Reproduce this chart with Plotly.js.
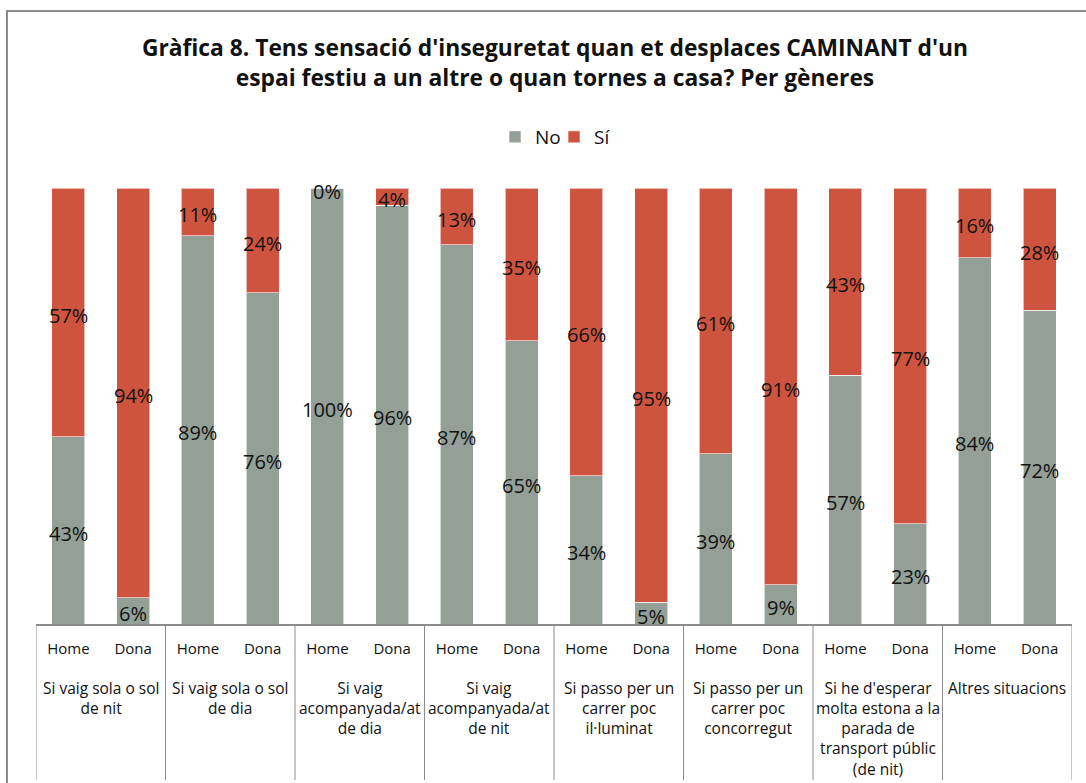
<!DOCTYPE html>
<html>
<head>
<meta charset="utf-8">
<script src="https://cdn.plot.ly/plotly-3.0.1.min.js"></script>
<style>
  html, body { margin: 0; padding: 0; background: #fff; overflow: hidden; }
  #wrap { position: relative; width: 1086px; height: 783px; }
  #chart { width: 1086px; height: 783px; }
  /* outer chart frame; right and bottom edges fall outside the picture */
  #frame {
    position: absolute;
    left: 6px;
    top: 10px;
    width: 1080px;
    height: 773px;
    box-sizing: border-box;
    border-top: 2px solid #8c8c8c;
    border-left: 2px solid #8c8c8c;
    pointer-events: none;
  }
</style>
</head>
<body>
<div id="wrap">
  <div id="chart"></div>
  <div id="frame"></div>
</div>
<script>
// Data

const groupLabels = [
  "Si vaig sola o sol<br>de nit",
  "Si vaig sola o sol<br>de dia",
  "Si vaig<br>acompanyada/at<br>de dia",
  "Si vaig<br>acompanyada/at<br>de nit",
  "Si passo per un<br>carrer poc<br>il·luminat",
  "Si passo per un<br>carrer poc<br>concorregut",
  "Si he d'esperar<br>molta estona a la<br>parada de<br>transport públic<br>(de nit)",
  "Altres situacions",
];
const genders = ["Home", "Dona"];

// one value per bar: Home, Dona for each group in order
const noValues = [43, 6, 89, 76, 100, 96, 87, 65, 34, 5, 39, 9, 57, 23, 84, 72];
const siValues = [57, 94, 11, 24, 0, 4, 13, 35, 66, 95, 61, 91, 43, 77, 16, 28];

// Colours / fonts
const COLOR_NO = "#939f97";
const COLOR_SI = "#ce543f";
const LINE_GREY = "#8c8c8c";
const FONT = "Open Sans, Noto Sans, sans-serif";

// Build

const barIndex = noValues.map((v, i) => i);
const tickText = barIndex.map((i) => genders[i % 2]);

const barTrace = function (name, values, color) {
  return {
    type: "bar",
    name: name,
    x: barIndex,
    y: values,
    marker: { color: color, line: { color: "rgba(255,255,255,0.6)", width: 1 } },
    hoverinfo: "skip",
  };
};

const data = [
  barTrace("No", noValues, COLOR_NO),
  barTrace("Sí", siValues, COLOR_SI),
];

// value labels centred on each stacked segment
const labelNotes = function (values, base) {
  return values.map((v, i) => ({
    xref: "x",
    yref: "y",
    x: i,
    y: base[i] + v / 2,
    text: v + "%",
    showarrow: false,
    xanchor: "center",
    yanchor: "middle",
    yshift: -3,
    font: { family: FONT, size: 20, color: "#111" },
  }));
};

// group boxes below the axis
const shapes = [];
for (let g = 0; g <= groupLabels.length; g++) {
  shapes.push({
    type: "line",
    xref: "x",
    yref: "paper",
    x0: 2 * g - 0.5,
    x1: 2 * g - 0.5,
    y0: 0,
    y1: -0.358,
    line: { color: LINE_GREY, width: 1 },
  });
}

const groupNotes = groupLabels.map((label, g) => ({
  xref: "x",
  yref: "paper",
  x: 2 * g + 0.5,
  y: -0.116,
  yanchor: "top",
  xanchor: "center",
  align: "center",
  showarrow: false,
  text: label,
  font: { family: FONT, size: 15.5, color: "#111" },
}));

const layout = {
  width: 1086,
  height: 783,
  margin: { l: 36, r: 14, t: 188, b: 159 },
  paper_bgcolor: "#fff",
  plot_bgcolor: "rgba(0,0,0,0)",
  barmode: "stack",
  bargap: 0.49,
  hovermode: false,
  title: {
    text: "Gràfica 8. Tens sensació d'inseguretat quan et desplaces CAMINANT d'un<br>espai festiu a un altre o quan tornes a casa? Per gèneres",
    font: { family: FONT, size: 22.8, color: "#111", weight: "bold" },
    x: 0.511,
    xanchor: "center",
    xref: "container",
    y: 0.928,
    yanchor: "top",
    yref: "container",
  },
  legend: {
    orientation: "h",
    x: 0.5,
    xanchor: "center",
    y: 1.117,
    yanchor: "middle",
    font: { family: FONT, size: 19, color: "#111" },
    itemwidth: 30,
    entrywidth: 14,
    entrywidthmode: "pixels",
    traceorder: "normal",
  },
  xaxis: {
    range: [-0.5, 15.5],
    tickmode: "array",
    tickvals: barIndex,
    ticktext: tickText,
    ticks: "",
    ticklabelstandoff: 10,
    showgrid: false,
    zeroline: false,
    showline: true,
    linecolor: LINE_GREY,
    linewidth: 1.5,
    tickfont: { family: FONT, size: 15, color: "#111" },
    fixedrange: true,
  },
  yaxis: {
    range: [0, 100],
    visible: false,
    showgrid: false,
    zeroline: false,
    fixedrange: true,
  },
  shapes: shapes,
  annotations: groupNotes
    .concat(labelNotes(noValues, noValues.map(() => 0)))
    .concat(labelNotes(siValues, noValues)),
};

Plotly.newPlot("chart", data, layout, { displayModeBar: false, staticPlot: true });
</script>
</body>
</html>
